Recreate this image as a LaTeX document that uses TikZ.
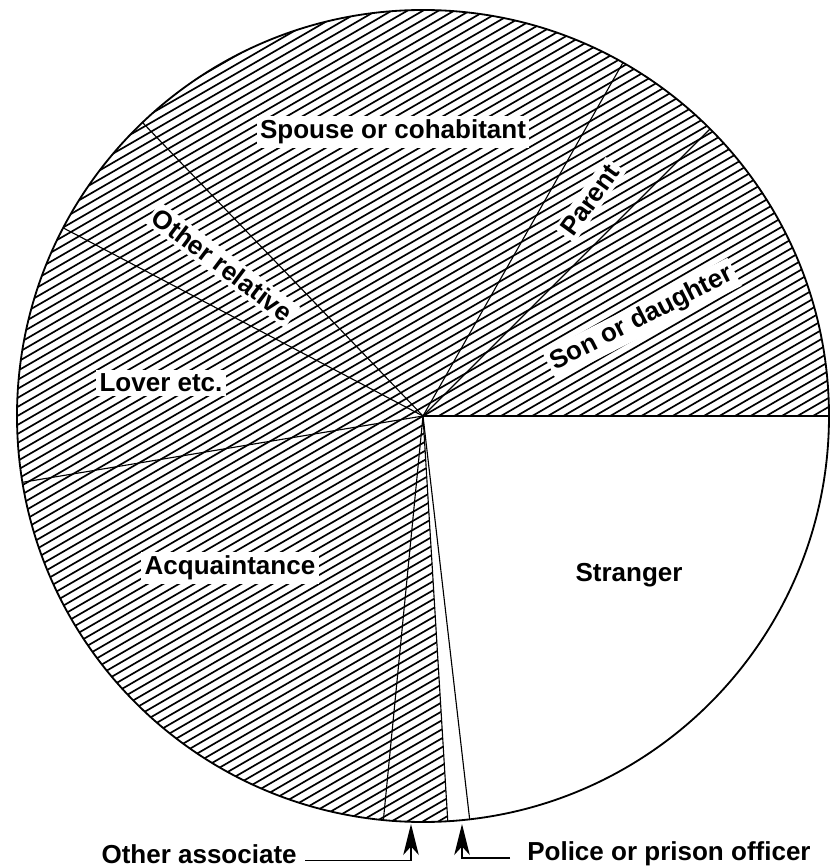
\documentclass[tikz,border=0pt]{standalone}
\usepackage{fontspec}
\setmainfont{Liberation Sans}
\usetikzlibrary{arrows.meta}
\tikzset{hatch/.style={line width=1.2pt},
 spoke/.style={line width=0.8pt},
 rim/.style={line width=1.3pt},
 slicelabel/.style={fill=white,inner sep=2.5pt,font=\bfseries\fontsize{18.5}{20}\selectfont},
 keylabel/.style={inner sep=0pt,font=\bfseries\fontsize{18.5}{20}\selectfont},
 pointer/.style={line width=1.1pt,-{Stealth[length=22pt,width=11pt,inset=6pt]}},
 }

\begin{document}
\begin{tikzpicture}[x=0.025cm,y=0.025cm]
        \useasboundingbox (-423,-451) rectangle (408,416);
        \coordinate (c) at (0,0);
        % hatching on all slices but police and stranger
        \begin{scope}
            \clip (c) -- (0:406) arc[start angle=0,end angle=273.5,radius=406] -- cycle;
            \begin{scope}[rotate=30]
                \foreach \k in {-54,...,54}
                    \draw[hatch] (-430,\k*7.8) -- (430,\k*7.8);
            \end{scope}
        \end{scope}
        \foreach \a in {0,45,60.5,133.7,152.4,189.4,264.4,273.5,276.6}
            \draw[spoke] (c) -- (\a:406);
        \draw[rim] (c) circle[radius=406];
        % slice labels
        \node[slicelabel] (spouse) at (-30,284) {Spouse or cohabitant};
        \node[slicelabel,rotate=54] (parent) at (167,216) {Parent};
        \node[slicelabel,rotate=27] (son) at (219,97) {Son or daughter};
        \node[slicelabel,rotate=-37] (relative) at (143:251) {Other relative};
        \node[slicelabel] (lover) at (-262,33) {Lover etc.};
        \node[slicelabel] (acq) at (-193,-152) {Acquaintance};
        \node[slicelabel] (stranger) at (206,-159) {Stranger};
        % small slices
        \node[keylabel,anchor=east] (assoc) at (-126,-438) {Other associate};
        \node[keylabel,anchor=west] (police) at (104,-438) {Police or prison officer};
        \coordinate (assoctip) at (-12,-408);
        \coordinate (policetip) at (39,-408);
        \draw[pointer] ([xshift=6pt,yshift=2pt]assoc.base east) -| (assoctip);
        \draw[pointer] ([xshift=-12pt,yshift=2pt]police.base west) -| (policetip);
    \end{tikzpicture}
\end{document}
